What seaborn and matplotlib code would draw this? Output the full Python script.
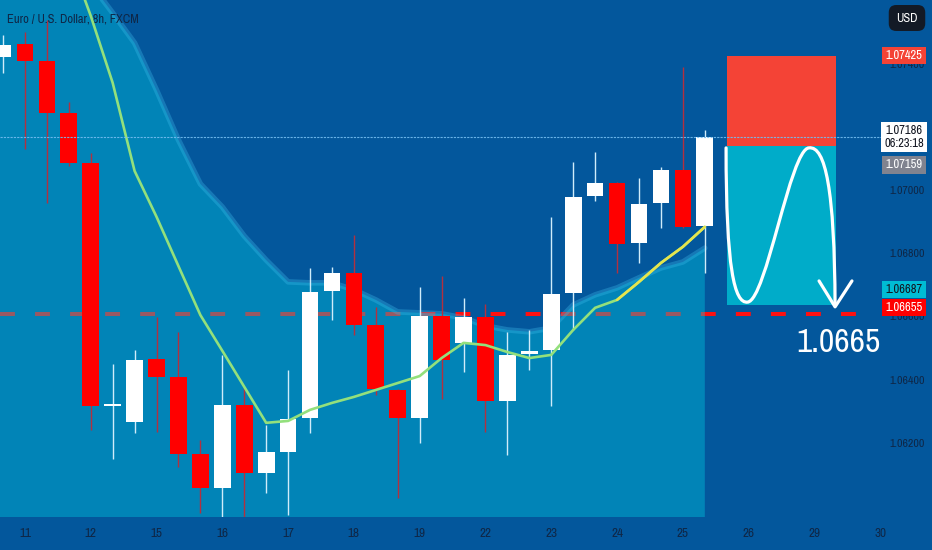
import numpy as np
import pandas as pd
import matplotlib.pyplot as plt
import matplotlib.transforms as mtransforms
import matplotlib.font_manager as fm
from matplotlib.path import Path
from matplotlib.patches import PathPatch, Rectangle
import seaborn as sns

# EUR/USD 8h candles
opens = [1.07421, 1.07462, 1.07408, 1.07244, 1.07085, 1.06316, 1.06266, 1.06465, 1.06408, 1.06165,
         1.06057, 1.06320, 1.06104, 1.06171, 1.06278, 1.06680, 1.06737, 1.06573, 1.06367, 1.06278,
         1.06601, 1.06516, 1.06598, 1.06332, 1.06481, 1.06494, 1.06674, 1.06981, 1.07022, 1.06832,
         1.06959, 1.07063, 1.06886]
highs = [1.07491, 1.07500, 1.07538, 1.07278, 1.07117, 1.06449, 1.06494, 1.06598, 1.06551, 1.06209,
         1.06478, 1.06377, 1.06256, 1.06430, 1.06753, 1.06756, 1.06858, 1.06630, 1.06370, 1.06693,
         1.06728, 1.06658, 1.06639, 1.06551, 1.06557, 1.06915, 1.07089, 1.07120, 1.07025, 1.07038,
         1.07073, 1.07389, 1.07190]
lows = [1.07370, 1.07130, 1.06959, 1.07075, 1.06241, 1.06149, 1.06231, 1.06234, 1.06123, 1.05978,
        1.05965, 1.05965, 1.06041, 1.05972, 1.06231, 1.06589, 1.06541, 1.06351, 1.06025, 1.06199,
        1.06339, 1.06424, 1.06234, 1.06161, 1.06430, 1.06316, 1.06557, 1.06965, 1.06737, 1.06769,
        1.06880, 1.06880, 1.06737]
closes = [1.07459, 1.07408, 1.07244, 1.07085, 1.06316, 1.06319, 1.06462, 1.06408, 1.06165, 1.06057,
          1.06320, 1.06104, 1.06171, 1.06275, 1.06677, 1.06737, 1.06573, 1.06370, 1.06278, 1.06601,
          1.06462, 1.06598, 1.06332, 1.06478, 1.06491, 1.06671, 1.06978, 1.07022, 1.06829, 1.06956,
          1.07063, 1.06883, 1.07168]
# moving average and the upper edge of the shaded band
ema = [1.08297, 1.08108, 1.07918, 1.07741, 1.07551, 1.07339, 1.07060, 1.06915, 1.06759, 1.06604,
       1.06491, 1.06377, 1.06263, 1.06269, 1.06304, 1.06326, 1.06345, 1.06367, 1.06389, 1.06411,
       1.06468, 1.06516, 1.06509, 1.06487, 1.06468, 1.06478, 1.06557, 1.06627, 1.06652, 1.06709,
       1.06769, 1.06820, 1.06883]
band = [1.08032, 1.07937, 1.07842, 1.07747, 1.07652, 1.07560, 1.07465, 1.07316, 1.07158, 1.07019,
        1.06946, 1.06854, 1.06778, 1.06709, 1.06706, 1.06706, 1.06684, 1.06652, 1.06614, 1.06611,
        1.06608, 1.06595, 1.06570, 1.06557, 1.06551, 1.06563, 1.06636, 1.06668, 1.06690, 1.06722,
        1.06753, 1.06772, 1.06816]
days = ["11", "12", "15", "16", "17", "18", "19", "22", "23", "24", "25", "26", "29", "30"]
bars_per_day = 3
price_ticks = [1.062, 1.064, 1.066, 1.068, 1.070, 1.074]

# short position drawing
stop_price = 1.07425
entry_price = 1.07139
target_price = 1.06636
level_price = 1.06608
level_text = "1.0665"

BG = "#03579c"
TXT = "#0f2747"

sns.set_theme(style="dark", rc={"axes.facecolor": BG, "figure.facecolor": BG})

# look for a narrow face, the chart uses a condensed font
names = sorted({f.name for f in fm.fontManager.ttflist})
narrow = [n for n in names if "Narrow" in n or "Condensed" in n]
if narrow:
    plt.rcParams["font.family"] = [narrow[0], "DejaVu Sans"]
    scale = 1.0
else:
    plt.rcParams["font.family"] = ["Roboto", "DejaVu Sans"]
    scale = 0.85

fig = plt.figure(figsize=(9.32, 5.5), dpi=100)
ax = fig.add_axes([0, 33 / 550, 1, 517 / 550])
ax.set_facecolor(BG)

df = pd.DataFrame({"open": opens, "high": highs, "low": lows, "close": closes,
                   "ema": ema, "band": band})
df["bar"] = np.arange(len(df))
up = df["close"] >= df["open"]

x0, x1 = -0.137, 42.36
y0, y1 = 1.05965, 1.07601
ax.set_xlim(x0, x1)
ax.set_ylim(y0, y1)

# dashed target level (sits below the shaded band)
ax.hlines(level_price, x0, 39.53, colors="#ff1010", lw=2.9,
          linestyles=(0, (3.7, 5.0)), zorder=1)

# shaded band, held flat to the left edge
fx = np.r_[x0, df["bar"]]
fy = np.r_[band[0], df["band"]]
ax.fill_between(fx, fy, y0, color="#00c8e1", alpha=0.4, lw=0, zorder=2)
sns.lineplot(data=df, x="bar", y="band", ax=ax, color="#3bb8e8", lw=4, alpha=0.35, zorder=2)

# candles
wick_col = np.where(up, "#d0ecfa", "#b3303f")
body_col = np.where(up, "#ffffff", "#ff0000")
ax.vlines(df["bar"], df["low"], df["high"], colors=wick_col, lw=1.0, zorder=3)
body_h = np.maximum((df["close"] - df["open"]).abs(), 0.00005)
ax.bar(df["bar"], body_h, bottom=np.minimum(df["open"], df["close"]),
       width=0.76, color=body_col, lw=0, zorder=3.5)

# moving average
sns.lineplot(data=df, x="bar", y="ema", ax=ax, color="#93e07c", lw=1.9, zorder=4)
tail = df.iloc[28:]
sns.lineplot(data=tail, x="bar", y="ema", ax=ax, color="#e6e44c", lw=1.9, zorder=4)

# risk / reward boxes
ax.add_patch(Rectangle((33, entry_price), 5, stop_price - entry_price,
                       color="#f44336", lw=0, zorder=5))
ax.add_patch(Rectangle((33, target_price), 5, entry_price - target_price,
                       color="#00acc9", lw=0, zorder=5))

# hand drawn projection path
verts = [(32.97, 1.07133),
         (32.97, 1.0675), (33.35, 1.06640), (33.95, 1.06645),
         (34.8, 1.0665), (35.9, 1.0713), (36.75, 1.07133),
         (37.5, 1.0714), (37.92, 1.0700), (37.94, 1.06635)]
codes = [Path.MOVETO] + [Path.CURVE4] * 9
ax.add_patch(PathPatch(Path(verts, codes), fill=False, ec="white", lw=2.3,
                       capstyle="round", zorder=6))
ax.plot([37.21, 37.94, 38.71], [1.06712, 1.06630, 1.06712], color="white",
        lw=2.3, solid_capstyle="round", zorder=6)
ax.text(40.0, 1.06516, level_text, color="white", fontsize=24 * scale, ha="right",
        va="center", zorder=6)

# last price line
ax.hlines(closes[-1], x0, 40.1, colors="#74bdf0", lw=0.8, alpha=0.9,
          linestyles=(0, (2, 1)), zorder=7)

# axes
ax.yaxis.tick_right()
ax.set_yticks(price_ticks)
ax.set_yticklabels([f"{p:.5f}" for p in price_ticks])
ax.tick_params(axis="y", length=0, pad=-31, labelsize=8.5 * scale, labelcolor=TXT)
ax.set_xticks(np.arange(len(days)) * bars_per_day + 1)
ax.set_xticklabels(days)
ax.tick_params(axis="x", length=0, pad=8, labelsize=9.5 * scale, labelcolor=TXT)
ax.set_xlabel("")
ax.set_ylabel("")
ax.grid(False)
for s in ax.spines.values():
    s.set_visible(False)

ax.text(7 / 932, 1 - 19 / 517, "Euro / U.S. Dollar, 8h, FXCM", transform=ax.transAxes,
        color=TXT, fontsize=9 * scale, ha="left", va="center", fontweight="bold")

# price scale labels
tr = mtransforms.blended_transform_factory(ax.transAxes, ax.transData)
xc = 904 / 932
ax.text(907 / 932, 1 - 18 / 517, "USD", transform=ax.transAxes, color="white",
        fontsize=9 * scale, ha="center", va="center", zorder=8,
        bbox=dict(boxstyle="round,pad=0.6", fc="#131a26", ec="none"))
tags = [
    (stop_price, "1.07425", "#f44336", "white"),
    (closes[-1], "1.07186\n06:23:18", "white", "#131722"),
    (1.07079, "1.07159", "#80838f", "white"),
    (1.06684, "1.06687", "#00bcd4", "#131722"),
    (1.06627, "1.06655", "#ff0000", "white"),
]
for yv, lab, fc, tc in tags:
    ax.text(xc, yv, lab, transform=tr, color=tc, fontsize=9 * scale, ha="center",
            va="center", zorder=8, linespacing=1.15,
            bbox=dict(boxstyle="square,pad=0.25", fc=fc, ec="none"))

fig.savefig("out.png", dpi=100)
